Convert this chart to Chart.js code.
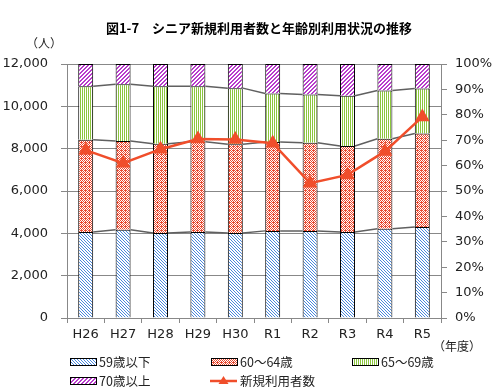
<!DOCTYPE html>
<html lang="ja">
<head>
<meta charset="UTF-8">
<title>シニア新規利用者数と年齢別利用状況の推移</title>
<script src="https://cdn.jsdelivr.net/npm/chart.js@4.4.0/dist/chart.umd.min.js"></script>
<style>
  html, body { margin: 0; padding: 0; background: #fff; }
  #wrap { width: 494px; height: 390px; }
</style>
</head>
<body>
<div id="wrap"><canvas id="c" width="494" height="390"></canvas></div>
<script>
// データ
const years = ["H26", "H27", "H28", "H29", "H30", "R1", "R2", "R3", "R4", "R5"];
const under59 = [33.9, 34.7, 33.5, 33.9, 33.5, 34.3, 34.3, 33.9, 35.1, 35.8];
const age60to64 = [36.3, 35.0, 35.1, 35.5, 34.9, 35.0, 34.7, 33.8, 35.5, 36.8];
const age65to69 = [21.0, 22.3, 22.6, 21.8, 22.1, 19.1, 19.0, 19.8, 19.0, 17.8];
const over70 = [8.8, 8.0, 8.8, 8.8, 9.5, 11.6, 12.0, 12.5, 10.4, 9.6];
const newUsers = [7930, 7310, 7975, 8460, 8430, 8260, 6370, 6760, 7870, 9500];
const countTicks = [0, 2000, 4000, 6000, 8000, 10000, 12000];
const pctTicks = [0, 10, 20, 30, 40, 50, 60, 70, 80, 90, 100];

const cjk = '"Noto Sans CJK JP", sans-serif';
const num = '"DejaVu Sans", sans-serif';
const lineColor = "#f04e2b";

const ctx = document.getElementById("c").getContext("2d");

// 模様を作る
function makePattern(size, fg, test) {
  const c = document.createElement("canvas");
  c.width = size; c.height = size;
  const p = c.getContext("2d");
  p.fillStyle = "#fff";
  p.fillRect(0, 0, size, size);
  p.fillStyle = fg;
  for (let i = 0; i < size; i++)
    for (let j = 0; j < size; j++)
      if (test(i, j)) p.fillRect(i, j, 1, 1);
  return ctx.createPattern(c, "repeat");
}
const patBlue = makePattern(3, "#4a88dc", (i, j) => (i - j + 3) % 3 === 0);
const patRed = makePattern(4, "#ea4a30", (i, j) => (i + j) % 2 === 0 || (i % 4 === 1 && j % 4 === 2));
const patGreen = makePattern(2, "#8cc63e", (i, j) => i === 0);
const patPurple = makePattern(4, "#b83ccc", (i, j) => (i + j) % 4 < 2);

function bar(label, data, fill) {
  return {
    type: "bar", label: label, data: data, yAxisID: "y1", stack: "age",
    backgroundColor: fill, borderColor: "#000", borderWidth: 1,
    categoryPercentage: 1, barPercentage: 0.4, order: 1
  };
}

// 系列線とテキスト類
const extras = {
  id: "extras",
  afterDatasetDraw(chart, args) {
    if (args.index !== 3) return;
    const c = chart.ctx;
    c.save();
    c.strokeStyle = "#606060";
    c.lineWidth = 1.5;
    for (let k = 0; k < 3; k++) {
      const pts = chart.getDatasetMeta(k).data;
      c.beginPath();
      for (let i = 0; i < pts.length - 1; i++) {
        const a = pts[i], b = pts[i + 1];
        c.moveTo(a.x + a.width / 2, a.y);
        c.lineTo(b.x - b.width / 2, b.y);
      }
      c.stroke();
    }
    c.restore();
  },
  afterDraw(chart) {
    const c = chart.ctx;
    c.save();
    c.fillStyle = "#000";
    c.textBaseline = "middle";
    c.textAlign = "center";
    c.font = "bold 13px " + cjk;
    c.fillText("図1-7　シニア新規利用者数と年齢別利用状況の推移", 259, 28);
    c.font = "12px " + cjk;
    c.fillStyle = "#222";
    c.fillText("（人）", 44, 43);
    c.fillText("（年度）", 457, 346);

    // 凡例
    const items = [
      [0, patBlue, 70, 362], [1, patRed, 211, 362], [2, patGreen, 352, 362],
      [3, patPurple, 70, 381]
    ];
    c.textAlign = "left";
    c.font = "12.5px " + cjk;
    items.forEach(([i, fill, x, y]) => {
      c.fillStyle = fill;
      c.fillRect(x, y - 3.5, 26, 7);
      c.strokeStyle = "#000";
      c.lineWidth = 1;
      c.strokeRect(x + 0.5, y - 3.5, 26, 7);
      c.fillStyle = "#222";
      c.fillText(chart.data.datasets[i].label, x + 29, y);
    });
    c.strokeStyle = lineColor;
    c.lineWidth = 2.5;
    c.beginPath();
    c.moveTo(210, 381); c.lineTo(237, 381);
    c.stroke();
    c.fillStyle = lineColor;
    c.beginPath();
    c.moveTo(223.5, 376); c.lineTo(228.5, 384); c.lineTo(218.5, 384);
    c.closePath(); c.fill();
    c.fillStyle = "#222";
    c.fillText(chart.data.datasets[4].label, 240, 381);
    c.restore();
  }
};

new Chart(ctx, {
  data: {
    labels: years,
    datasets: [
      bar("59歳以下", under59, patBlue),
      bar("60～64歳", age60to64, patRed),
      bar("65～69歳", age65to69, patGreen),
      bar("70歳以上", over70, patPurple),
      {
        type: "line", label: "新規利用者数", data: newUsers, yAxisID: "y",
        borderColor: lineColor, backgroundColor: lineColor, borderWidth: 2.5,
        pointStyle: "triangle", pointRadius: 6, pointHoverRadius: 6,
        tension: 0, order: 0
      }
    ]
  },
  options: {
    responsive: false,
    animation: false,
    devicePixelRatio: 1,
    layout: { padding: { top: 64, bottom: 52, left: 0, right: 0 } },
    plugins: { legend: { display: false }, title: { display: false }, tooltip: { enabled: false } },
    scales: {
      x: {
        afterFit: s => { s.height = 20; },
        grid: { offset: true, drawOnChartArea: false, tickLength: 5, color: "#888" },
        border: { color: "#888" },
        ticks: { color: "#222", font: { family: num, size: 13 }, padding: 4 }
      },
      y: {
        position: "left", min: 0, max: 12000,
        afterFit: s => { s.width = 67; },
        afterBuildTicks: s => { s.ticks = countTicks.map(v => ({ value: v })); },
        grid: { color: "#888", tickLength: 6 },
        border: { color: "#888" },
        ticks: {
          color: "#222", font: { family: num, size: 13 }, padding: 13,
          callback: v => v.toLocaleString("en-US")
        }
      },
      y1: {
        position: "right", min: 0, max: 100, stacked: true,
        afterFit: s => { s.width = 53; },
        afterBuildTicks: s => { s.ticks = pctTicks.map(v => ({ value: v })); },
        grid: { drawOnChartArea: false, color: "#888", tickLength: 6 },
        border: { color: "#888" },
        ticks: {
          color: "#222", font: { family: num, size: 13 }, padding: 8,
          callback: v => v + "%"
        }
      }
    }
  },
  plugins: [extras]
});
</script>
</body>
</html>
